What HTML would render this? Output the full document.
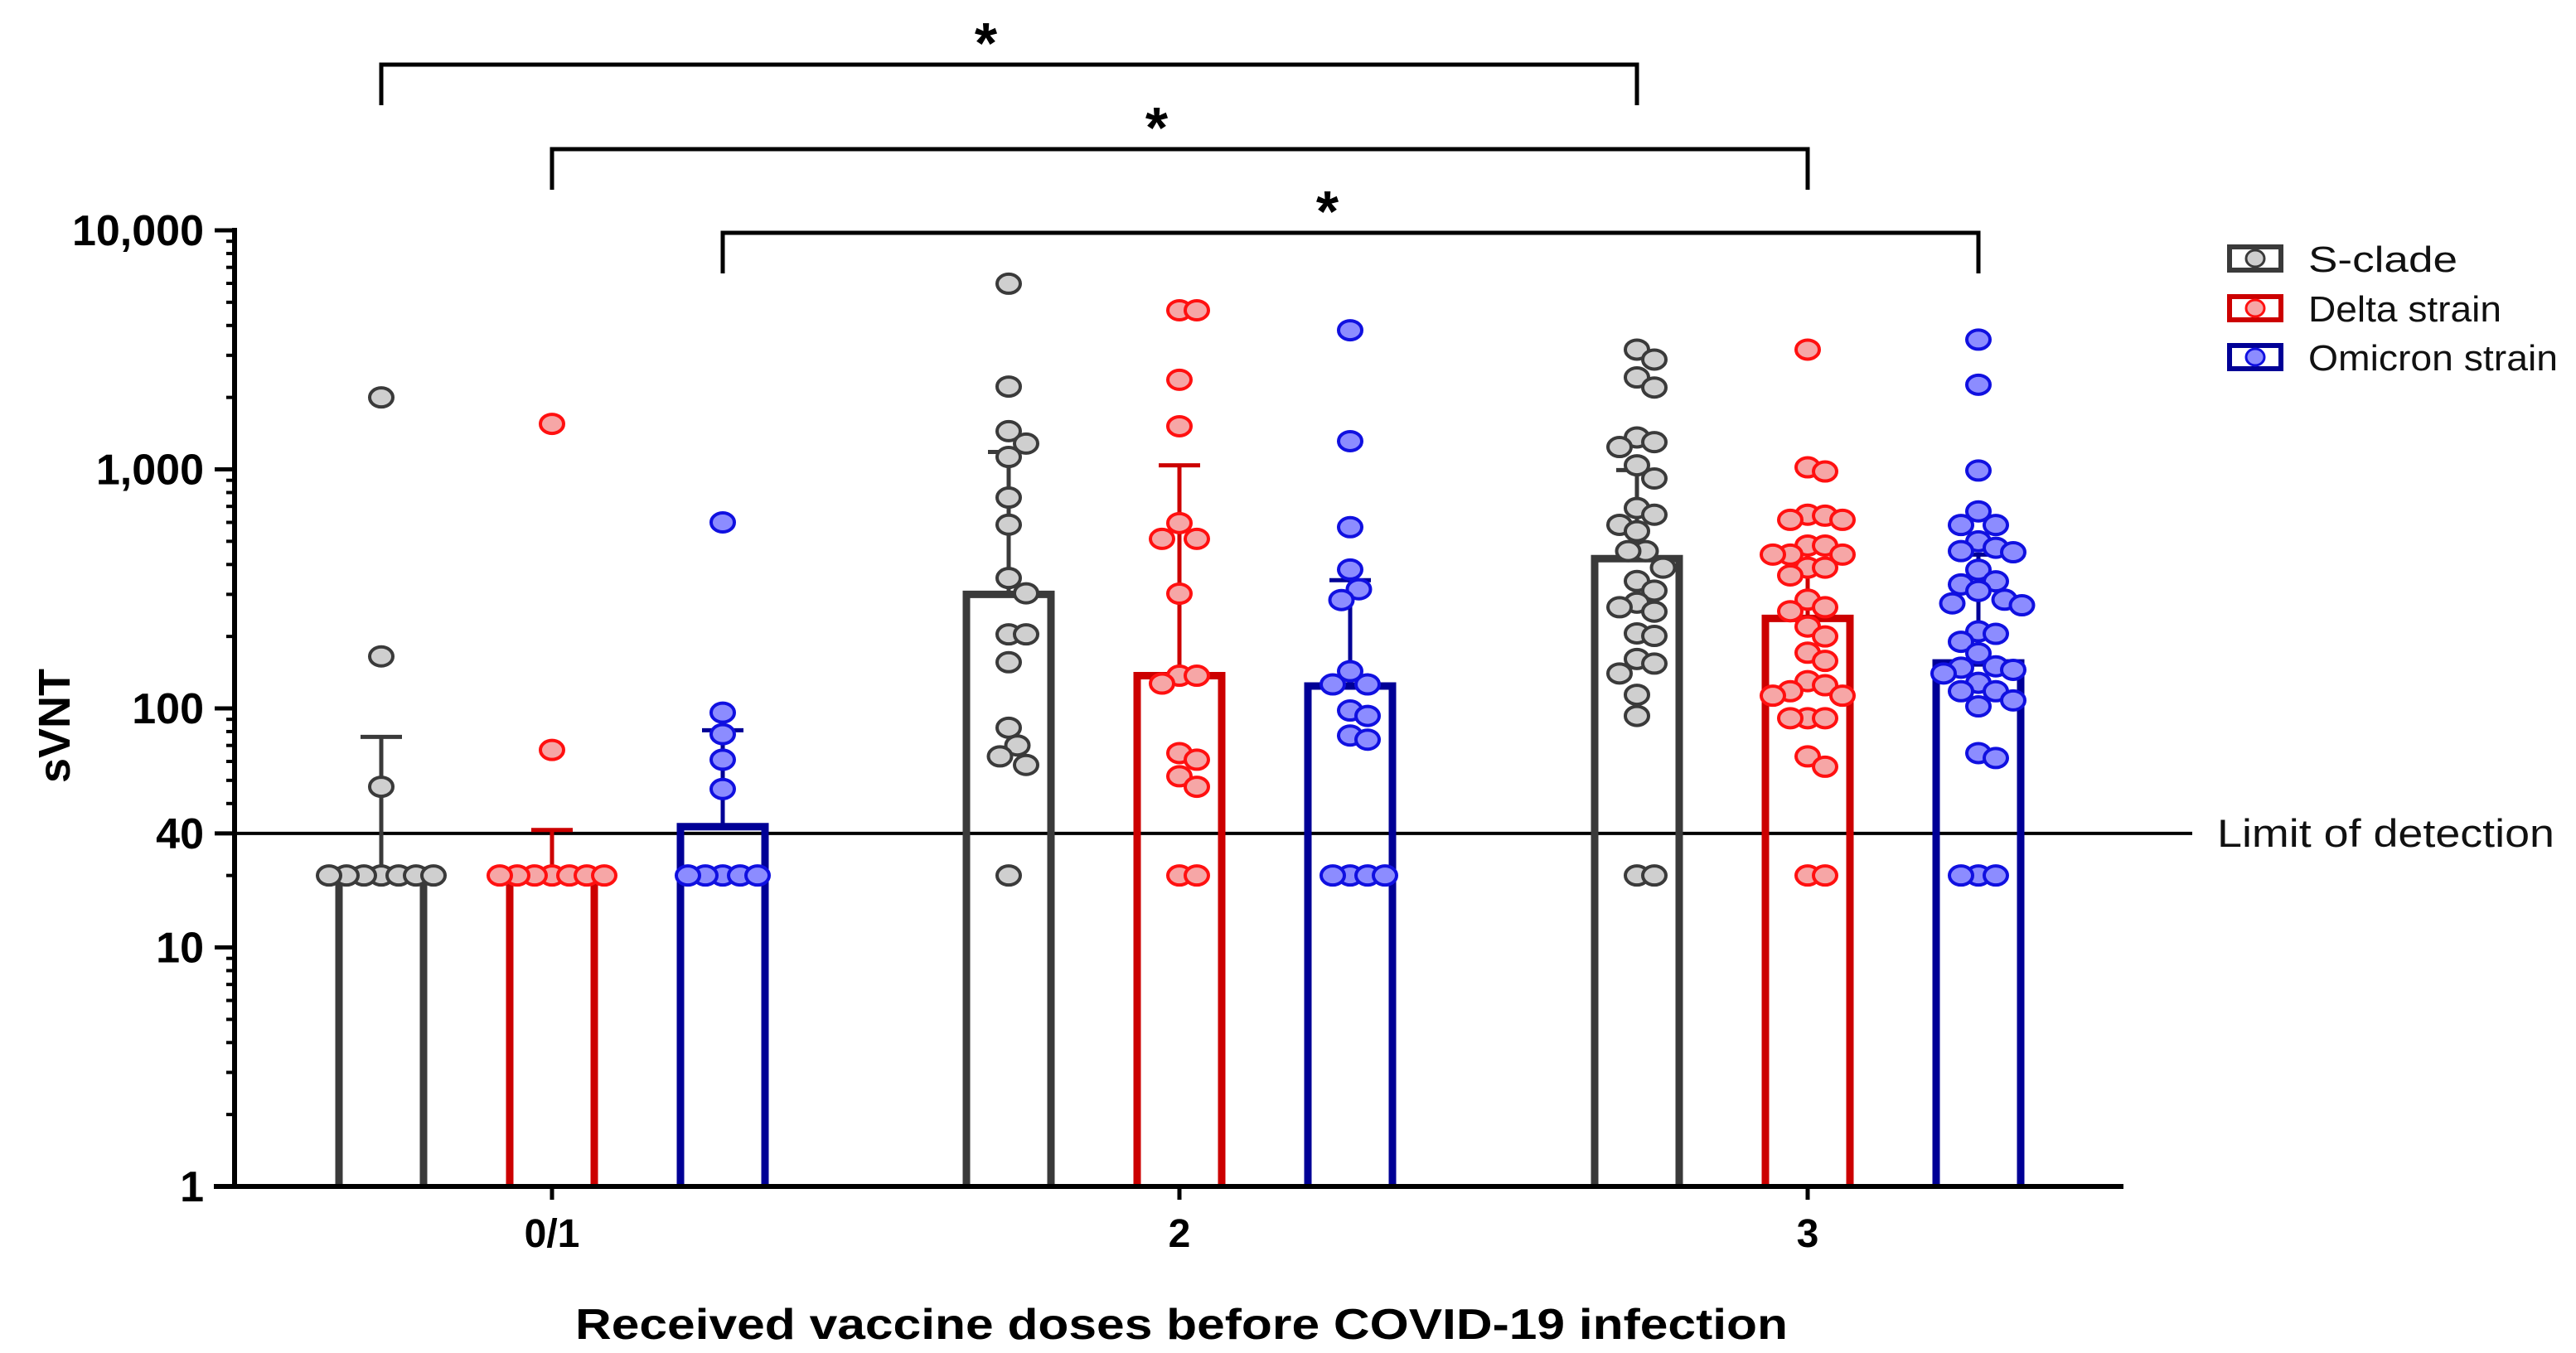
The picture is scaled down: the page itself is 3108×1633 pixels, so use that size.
<!DOCTYPE html>
<html><head><meta charset="utf-8"><style>
html,body{margin:0;padding:0;background:#fff;}
svg{display:block;font-family:"Liberation Sans",Arial,sans-serif;}
</style></head><body>
<svg id="chart" width="3108" height="1633" viewBox="0 0 3108 1633" xmlns="http://www.w3.org/2000/svg">
<rect x="0" y="0" width="3108" height="1633" fill="#fff"/>
</svg>
<script>
// ---- data ----
const categories = ["0/1", "2", "3"];
const seriesNames = ["S-clade", "Delta strain", "Omicron strain"];
const barMeans = [
  [21, 300, 423],     // S-clade
  [20.5, 137, 238],   // Delta
  [32, 124, 155]      // Omicron
];
const errorTops = [
  [76, 1183, 993],
  [31, 1040, 464],
  [81, 344, 440]
];
const sCladeDots = [
  [2000, 165, 47, 20, 20, 20, 20, 20, 20, 20],
  [5980, 2220, 1445, 1282, 1127, 762, 587, 351, 303, 204, 204, 156, 83, 70, 63, 58, 20],
  [3170, 2880, 2425, 2200, 1360, 1300, 1240, 1040, 916, 689, 646, 586, 551, 455, 455, 388, 341, 311, 277, 265, 254, 206, 201, 161, 154, 140, 114, 93, 20, 20]
];
const deltaDots = [
  [1550, 67, 20, 20, 20, 20, 20, 20, 20],
  [4630, 4630, 2370, 1515, 596, 512, 512, 302, 137, 137, 127, 65, 61, 52, 47, 20, 20],
  [3170, 1020, 980, 646, 640, 615, 615, 480, 480, 440, 440, 440, 388, 388, 360, 285, 265, 255, 220, 200, 171, 158, 130, 125, 118, 113, 113, 91, 91, 91, 63, 57, 20, 20]
];
const omicronDots = [
  [600, 96, 78, 61, 46, 20, 20, 20, 20, 20],
  [3820, 1312, 573, 381, 315, 284, 143, 126, 126, 98, 93, 77, 74, 20, 20, 20, 20],
  [3490, 2260, 989, 667, 585, 585, 500, 470, 455, 450, 380, 340, 330, 310, 285, 275, 270, 210, 205, 190, 170, 150, 148, 145, 140, 128, 118, 118, 108, 102, 65, 62, 20, 20, 20]
];
const yTickValues = [1, 10, 30, 100, 1000, 10000];
const yTickLabels = ["1", "10", "40", "100", "1,000", "10,000"];
const lodValue = 30;
const comparisons = [[0, 0, 2], [1, 0, 2], [2, 0, 2]]; // [series, fromCat, toCat]

// ---- scales ----
const NS = "http://www.w3.org/2000/svg";
const svg = document.getElementById("chart");
const X0 = 283, YB = 1432, YT = 278, XEND = 2562;
const DEC = (YB - YT) / 4;
function yScale(v) { return YB - Math.log10(v) * DEC; }
const catCenter = [666, 1423, 2181];
const seriesOffset = [-206, 0, 206];
function xScale(ci, si) { return catCenter[ci] + seriesOffset[si]; }
const strokeCol = ["#3a3a3a", "#cc0000", "#000096"];
const dotStroke = ["#3a3a3a", "#ff1010", "#1010e0"];
const dotFill = ["#cfcfcf", "#f6a6a6", "#8c8cff"];
const allDots = [sCladeDots, deltaDots, omicronDots];

function mk(tag, attrs, parent) {
  const e = document.createElementNS(NS, tag);
  for (const k in attrs) e.setAttribute(k, attrs[k]);
  (parent || svg).appendChild(e);
  return e;
}

// LOD line
let lod = mk("line", {x1: X0, x2: 2645, y1: yScale(lodValue), y2: yScale(lodValue), stroke: "#000", "stroke-width": 4});


let lodT = mk("text", {x: 2675, y: yScale(lodValue) + 16, "font-size": 47, fill: "#111", textLength: 407, lengthAdjust: "spacingAndGlyphs"});
lodT.textContent = "Limit of detection";



// bars
for (let si = 0; si < 3; si++) {
  for (let ci = 0; ci < 3; ci++) {
    const cx = xScale(ci, si), top = yScale(barMeans[si][ci]);
    const b = mk("path", {d: `M${cx-51},${YB} L${cx-51},${top} L${cx+51},${top} L${cx+51},${YB}`, fill: "none", stroke: strokeCol[si], "stroke-width": 9});
    
    
    const et = yScale(errorTops[si][ci]);
    const eb = mk("path", {d: `M${cx},${top} L${cx},${et} M${cx-25},${et} L${cx+25},${et}`, fill: "none", stroke: strokeCol[si], "stroke-width": 5});
    
    
  }
}

// dots (beeswarm)
const RX = 20, RY = 25, STEP = 10.5;
for (let si = 0; si < 3; si++) {
  for (let ci = 0; ci < 3; ci++) {
    const vals = allDots[si][ci].slice().sort((a, b) => b - a);
    const placed = [];
    const cx = xScale(ci, si);
    for (const v of vals) {
      const y = yScale(v);
      let dx = 0;
      for (let k = 0; k < 60; k++) {
        const cand = k === 0 ? 0 : (k % 2 ? 1 : -1) * Math.ceil(k / 2) * STEP;
        if (placed.every(p => Math.pow((p[0] - cand) / RX, 2) + Math.pow((p[1] - y) / RY, 2) >= 1)) { dx = cand; break; }
      }
      placed.push([dx, y]);
      const c = mk("ellipse", {cx: cx + dx, cy: y, rx: 14, ry: 11.5, fill: dotFill[si], stroke: dotStroke[si], "stroke-width": 4});
      
      
    }
  }
}

// axes
let ya = mk("line", {x1: X0, x2: X0, y1: YT - 3, y2: YB, stroke: "#000", "stroke-width": 6});


let xa = mk("line", {x1: X0 - 25, x2: XEND, y1: YB, y2: YB, stroke: "#000", "stroke-width": 6});


for (let d = 0; d < 4; d++) {
  for (let m = 2; m <= 9; m++) {
    const y = yScale(Math.pow(10, d) * m);
    const t = mk("line", {x1: X0 - 10, x2: X0, y1: y, y2: y, stroke: "#000", "stroke-width": 4});
    
    
  }
}
yTickValues.forEach((v, i) => {
  const y = yScale(v);
  const t = mk("line", {x1: X0 - 24, x2: X0, y1: y, y2: y, stroke: "#000", "stroke-width": 5});
  
  
  const l = mk("text", {x: 246, y: y + 18, "text-anchor": "end", "font-size": 52, "font-weight": "bold", fill: "#000"});
  l.textContent = yTickLabels[i];
  
  
});
categories.forEach((c, i) => {
  const t = mk("line", {x1: catCenter[i], x2: catCenter[i], y1: YB, y2: YB + 16, stroke: "#000", "stroke-width": 5});
  
  
  const l = mk("text", {x: catCenter[i], y: 1505, "text-anchor": "middle", "font-size": 48, "font-weight": "bold", fill: "#000"});
  l.textContent = c;
  
  
});
let yt = mk("text", {x: 0, y: 0, transform: "translate(84,876) rotate(-90)", "text-anchor": "middle", "font-size": 54, "font-weight": "bold", fill: "#000"});
yt.textContent = "sVNT";


let xt = mk("text", {x: 694, y: 1616, "font-size": 52, "font-weight": "bold", fill: "#000", textLength: 1463, lengthAdjust: "spacingAndGlyphs"});
xt.textContent = "Received vaccine doses before COVID-19 infection";



// significance brackets
const brY = [78, 180, 281];
comparisons.forEach((cmp, i) => {
  const xa1 = xScale(cmp[1], cmp[0]), xb1 = xScale(cmp[2], cmp[0]);
  const p = mk("path", {d: `M${xa1},${brY[i] + 49} L${xa1},${brY[i]} L${xb1},${brY[i]} L${xb1},${brY[i] + 49}`, fill: "none", stroke: "#000", "stroke-width": 5});
  
  
  const s = mk("text", {x: (xa1 + xb1) / 2 - 28, y: brY[i] - 2, "text-anchor": "middle", "font-size": 70, "font-weight": "bold", fill: "#000"});
  s.textContent = "*";
  
  
});

// legend
const legY = [312, 372, 431];
seriesNames.forEach((n, i) => {
  const g = mk("g", {});
  
  
  mk("rect", {x: 2690, y: legY[i] - 14, width: 62, height: 28, fill: "#fff", stroke: strokeCol[i], "stroke-width": 6}, g);
  mk("ellipse", {cx: 2721, cy: legY[i], rx: 11, ry: 10, fill: dotFill[i], stroke: dotStroke[i], "stroke-width": 3}, g);
  const t = mk("text", {x: 2785, y: legY[i] + 16, "font-size": 44, fill: "#111", textLength: (i === 0 ? 180 : i === 1 ? 233 : 301), lengthAdjust: "spacingAndGlyphs"}, g);
  t.textContent = n;
});
</script>
</body></html>
